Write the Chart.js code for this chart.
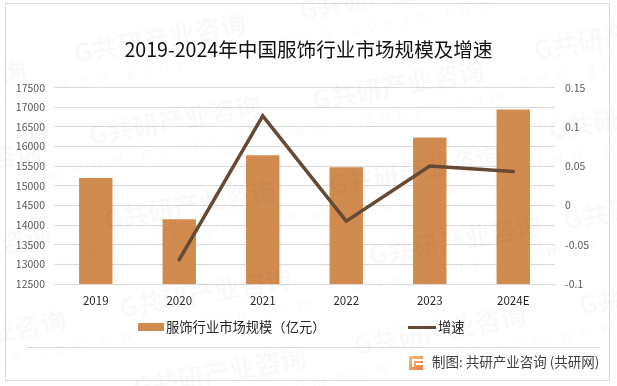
<!DOCTYPE html>
<html>
<head>
<meta charset="utf-8">
<style>
html, body { margin: 0; padding: 0; background: #fff; }
#box { position: relative; width: 617px; height: 386px; overflow: hidden; }
</style>
</head>
<body>
<div id="box"><canvas id="chart"></canvas></div>
<script src="https://cdn.jsdelivr.net/npm/chart.js@4"></script>
<script>
var categories = ['2019', '2020', '2021', '2022', '2023', '2024E'];
var marketSize = [15200, 14150, 15775, 15470, 16230, 16940];
var growth = [null, -0.069, 0.114, -0.02, 0.05, 0.043];
var titleText = '2019-2024年中国服饰行业市场规模及增速';
var sizeLabel = '服饰行业市场规模（亿元）';
var growthLabel = '增速';
var sourceText = '制图: 共研产业咨询 (共研网)';

var FONT = '"Noto Sans CJK SC", "Noto Sans", sans-serif';
var barColor = '#d28b4e';
var lineColor = '#664a33';

// faint repeated stamp, centre of each one
var stamps = [
  [-60, 85], [-45, 165], [-35, 250], [-20, 335],
  [160, 38], [175, 120], [190, 205], [205, 293], [220, 372],
  [385, -5], [398, 85], [415, 170], [455, 240], [440, 330],
  [620, 35], [635, 115], [650, 205], [665, 290]
];

var framePlugin = {
  id: 'frame',
  beforeDraw: function (chart) {
    var ctx = chart.ctx;
    ctx.save();
    ctx.fillStyle = '#fff';
    ctx.fillRect(0, 0, 617, 386);
    ctx.strokeStyle = '#d9d9d9';
    ctx.lineWidth = 1;
    ctx.strokeRect(5.5, 3.5, 604, 377);
    ctx.beginPath();
    ctx.moveTo(27, 347.5);
    ctx.lineTo(600, 347.5);
    ctx.stroke();
    ctx.restore();
  },
  afterDraw: function (chart) {
    var ctx = chart.ctx;
    ctx.save();

    // legend
    ctx.fillStyle = barColor;
    ctx.fillRect(138, 323, 26, 8);
    ctx.strokeStyle = lineColor;
    ctx.lineWidth = 3;
    ctx.beginPath();
    ctx.moveTo(408, 327.5);
    ctx.lineTo(436, 327.5);
    ctx.stroke();
    ctx.fillStyle = '#262626';
    ctx.font = '13.3px ' + FONT;
    ctx.textBaseline = 'middle';
    ctx.textAlign = 'left';
    ctx.fillText(chart.data.datasets[1].label, 166, 327);
    ctx.fillText(chart.data.datasets[0].label, 438, 327);

    // source line
    ctx.fillStyle = '#404040';
    ctx.font = '13.5px ' + FONT;
    ctx.fillText(sourceText, 432, 362);

    // logo
    var g = ctx.createLinearGradient(409, 356, 423, 370);
    g.addColorStop(0, '#f6c27a');
    g.addColorStop(1, '#ee7a4a');
    ctx.fillStyle = g;
    ctx.fillRect(409, 356, 14, 14);
    ctx.fillStyle = '#fff';
    ctx.fillRect(412, 359, 11, 2);
    ctx.fillRect(412, 361, 2, 6);
    ctx.fillRect(416, 363, 7, 2);

    // watermark
    stamps.forEach(function (s) {
      ctx.save();
      ctx.translate(s[0], s[1]);
      ctx.rotate(-10 * Math.PI / 180);
      ctx.textAlign = 'center';
      ctx.textBaseline = 'middle';
      ctx.fillStyle = 'rgba(0,0,0,0.024)';
      ctx.font = 'bold 26px ' + FONT;
      ctx.fillText('G共研产业咨询', 0, 0);
      ctx.font = '15px ' + FONT;
      ctx.letterSpacing = '8px';
      ctx.fillText('www.gonyn.com', 0, 27);
      ctx.restore();
    });
    ctx.restore();
  }
};

new Chart(document.getElementById('chart'), {
  type: 'bar',
  data: {
    labels: categories,
    datasets: [
      {
        type: 'line',
        label: growthLabel,
        data: growth,
        yAxisID: 'y2',
        borderColor: lineColor,
        backgroundColor: lineColor,
        borderWidth: 3.5,
        borderCapStyle: 'round',
        pointRadius: 0,
        tension: 0,
        order: 0
      },
      {
        label: sizeLabel,
        data: marketSize,
        yAxisID: 'y',
        backgroundColor: barColor,
        barPercentage: 0.4,
        categoryPercentage: 1,
        order: 1
      }
    ]
  },
  options: {
    animation: false,
    responsive: true,
    maintainAspectRatio: false,
    plugins: {
      legend: { display: false },
      tooltip: { enabled: false },
      title: {
        display: true,
        text: titleText,
        color: '#111',
        font: { family: FONT, size: 19.6, weight: 'normal' },
        padding: { top: 38, bottom: 26 }
      }
    },
    scales: {
      x: {
        grid: { display: false, drawTicks: false },
        border: { color: '#d9d9d9' },
        ticks: { color: '#262626', font: { family: FONT, size: 11.5 }, padding: 10, maxRotation: 0 },
        afterFit: function (axis) { axis.height = 102; }
      },
      y: {
        position: 'left',
        min: 12500,
        max: 17500,
        grid: { color: '#d9d9d9', drawTicks: false },
        border: { display: false },
        ticks: {
          stepSize: 500,
          color: '#595959',
          font: { family: FONT, size: 10.5 },
          padding: 9,
          callback: function (v) { return String(v); }
        },
        afterFit: function (axis) { axis.width = 54; }
      },
      y2: {
        position: 'right',
        min: -0.1,
        max: 0.15,
        grid: { display: false, drawTicks: false },
        border: { display: false },
        ticks: {
          stepSize: 0.05,
          color: '#595959',
          font: { family: FONT, size: 10.5 },
          padding: 10,
          callback: function (v) { return String(+v.toFixed(2)); }
        },
        afterFit: function (axis) { axis.width = 62; }
      }
    }
  },
  plugins: [framePlugin]
});
</script>
</body>
</html>
